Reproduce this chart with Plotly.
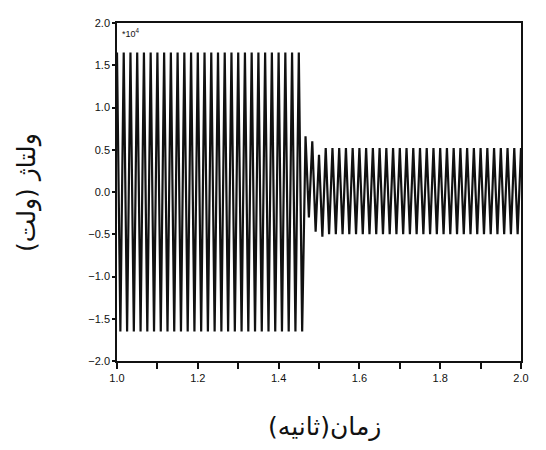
import plotly.graph_objects as go

# Waveform described by its half-cycle extremes (x10^4 V), 60 Hz signal
freq_hz = 60
t_start = 1.0
n_pre_half_cycles = 56           # half-cycles at full amplitude (1.0 .. ~1.458 s)
pre_peak = 1.65
pre_trough = -1.65
transient_extremes = [0.66, -0.30, 0.60, -0.47, 0.44, -0.53]
n_post_half_cycles = 59
post_peak = 0.52
post_trough = -0.50

x_ticks = [1.0, 1.1, 1.2, 1.3, 1.4, 1.5, 1.6, 1.7, 1.8, 1.9, 2.0]
x_tick_labels = ["1.0", "", "1.2", "", "1.4", "", "1.6", "", "1.8", "", "2.0"]
y_ticks = [-2.0, -1.5, -1.0, -0.5, 0.0, 0.5, 1.0, 1.5, 2.0]

extremes = []
for k in range(n_pre_half_cycles):
    extremes.append(pre_peak if k % 2 == 0 else pre_trough)
extremes += transient_extremes
for k in range(n_post_half_cycles):
    extremes.append(post_peak if k % 2 == 0 else post_trough)

times = [t_start + k / (2 * freq_hz) for k in range(len(extremes))]

fig = go.Figure()
fig.add_trace(go.Scatter(x=times, y=extremes, mode="lines",
                         line=dict(color="#111111", width=2.2),
                         hoverinfo="skip", showlegend=False))

axis_font = dict(family="Liberation Sans Narrow, Liberation Sans, Arial",
                 size=11, color="#111111")
fig.update_xaxes(range=[1.0, 2.0], tickmode="array", tickvals=x_ticks,
                 ticktext=x_tick_labels, ticks="outside", ticklen=6,
                 tickwidth=1.5, tickcolor="#111111", showline=True,
                 linecolor="#111111", linewidth=1.5, mirror=True,
                 showgrid=False, zeroline=False, tickfont=axis_font)
fig.update_yaxes(range=[-2.0, 2.0], tickmode="array", tickvals=y_ticks,
                 tickformat=".1f", ticks="outside", ticklen=3,
                 tickwidth=1.5, tickcolor="#111111", showline=True,
                 linecolor="#111111", linewidth=1.5, mirror=True,
                 showgrid=False, zeroline=False, tickfont=axis_font)

fig.update_layout(
    width=530, height=434,
    margin=dict(l=109, r=9, t=10, b=81),
    paper_bgcolor="white", plot_bgcolor="white",
    annotations=[
        dict(text="*10<sup>4</sup>", x=0.008, y=0.995, xref="paper", yref="paper",
             xanchor="left", yanchor="top", showarrow=False,
             font=dict(family="Liberation Sans Narrow, Liberation Sans, Arial",
                       size=9, color="#111111")),
        dict(text="زمان(ثانیه)", x=0.514, y=-0.195, xref="paper", yref="paper",
             xanchor="center", yanchor="middle", showarrow=False,
             font=dict(family="DejaVu Sans", size=25, color="#111111")),
        dict(text="ولتاژ (ولت)", x=-0.223, y=0.5, xref="paper", yref="paper",
             xanchor="center", yanchor="middle", showarrow=False, textangle=-90,
             font=dict(family="DejaVu Sans", size=25, color="#111111")),
    ],
)

fig.write_html("out.html")
